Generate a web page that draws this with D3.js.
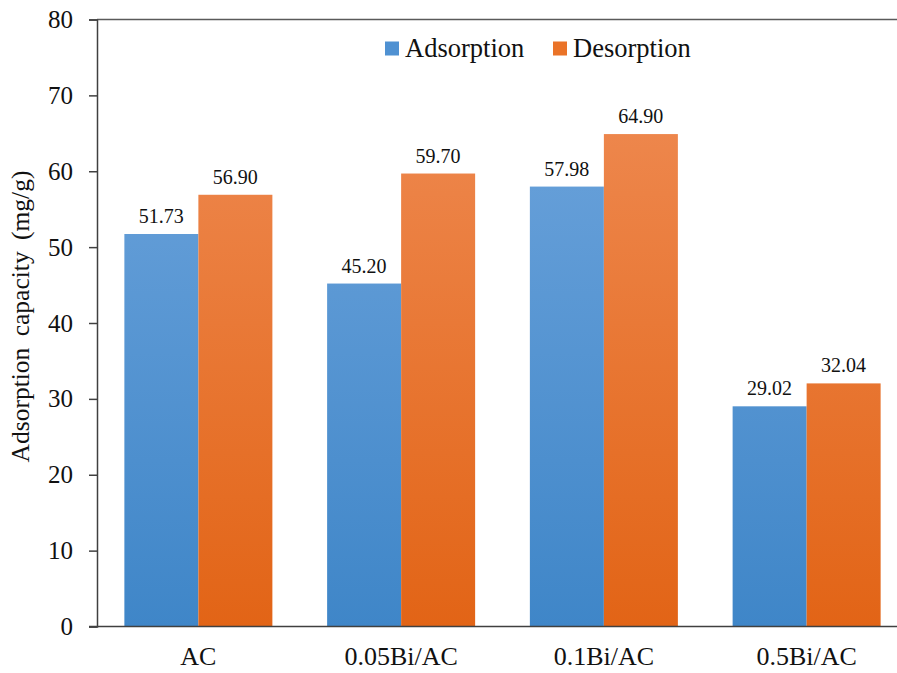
<!DOCTYPE html>
<html>
<head>
<meta charset="utf-8">
<script src="https://cdn.jsdelivr.net/npm/d3@7"></script>
<style>
  html, body { margin: 0; padding: 0; background: #fff; }
  svg { display: block; }
  svg text { font-family: "Liberation Serif", "Tinos", "Times New Roman", "DejaVu Serif", serif; }
</style>
</head>
<body>
<svg id="chart" width="897" height="673"></svg>
<script>
// Samples and measured capacities (mg/g)
const categories = ["AC", "0.05Bi/AC", "0.1Bi/AC", "0.5Bi/AC"];
const seriesNames = ["Adsorption", "Desorption"];
const adsorption = [51.73, 45.20, 57.98, 29.02];
const desorption = [56.90, 59.70, 64.90, 32.04];
const yTicks = [0, 10, 20, 30, 40, 50, 60, 70, 80];

const svg = d3.select("#chart");
const margin = { left: 97, right: -11, top: 19.5, bottom: 46.5 };
const W = 897, H = 673;

const x = d3.scaleBand()
  .domain(categories)
  .range([margin.left, W - margin.right])
  .paddingInner(0.27)
  .paddingOuter(0.135);

const xs = d3.scaleBand()
  .domain(seriesNames)
  .range([0, x.bandwidth()]);

const y = d3.scaleLinear()
  .domain([0, 80])
  .range([H - margin.bottom, margin.top]);

// vertical gradients for the two series
const defs = svg.append("defs");
const grads = [
  { id: "gAds", top: "#72a7de", bottom: "#3f86c8" },
  { id: "gDes", top: "#f08e58", bottom: "#e26416" }
];
grads.forEach(g => {
  const lg = defs.append("linearGradient")
    .attr("id", g.id)
    .attr("gradientUnits", "userSpaceOnUse")
    .attr("x1", 0).attr("x2", 0)
    .attr("y1", y(80)).attr("y2", y(0));
  lg.append("stop").attr("offset", "0%").attr("stop-color", g.top);
  lg.append("stop").attr("offset", "100%").attr("stop-color", g.bottom);
});

// top frame line
svg.append("line")
  .attr("x1", margin.left).attr("x2", W)
  .attr("y1", y(80)).attr("y2", y(80))
  .attr("stroke", "#5a5a5a").attr("stroke-width", 1.5);

const rows = categories.map((c, i) => ({
  cat: c,
  vals: [
    { s: "Adsorption", v: adsorption[i], fill: "url(#gAds)" },
    { s: "Desorption", v: desorption[i], fill: "url(#gDes)" }
  ]
}));

const groups = svg.append("g").selectAll("g")
  .data(rows).join("g")
  .attr("transform", d => `translate(${x(d.cat)},0)`);

groups.selectAll("rect")
  .data(d => d.vals).join("rect")
  .attr("x", d => xs(d.s))
  .attr("width", xs.bandwidth())
  .attr("y", d => y(d.v))
  .attr("height", d => y(0) - y(d.v))
  .attr("fill", d => d.fill);

groups.selectAll("text")
  .data(d => d.vals).join("text")
  .attr("x", d => xs(d.s) + xs.bandwidth() / 2)
  .attr("y", d => y(d.v) - 11)
  .attr("text-anchor", "middle")
  .attr("font-size", 20)
  .attr("fill", "#111")
  .text(d => d.v.toFixed(2));

// y axis
const yAxis = svg.append("g")
  .attr("transform", `translate(${margin.left},0)`)
  .call(d3.axisLeft(y).tickValues(yTicks).tickSize(8).tickPadding(16).tickFormat(d3.format("d")));
yAxis.attr("font-family", null);
yAxis.select(".domain").attr("stroke", "#404040").attr("stroke-width", 1.5);
yAxis.selectAll(".tick line").attr("stroke", "#404040").attr("stroke-width", 1.5);
yAxis.selectAll(".tick text").attr("font-size", 25).attr("fill", "#111");

// x axis baseline
const xAxis = svg.append("g")
  .attr("transform", `translate(0,${y(0)})`)
  .call(d3.axisBottom(x).tickSize(0).tickPadding(20));
xAxis.attr("font-family", null);
xAxis.select(".domain").attr("d", `M${margin.left - 8},0H${W}`)
  .attr("stroke", "#404040").attr("stroke-width", 1.5);
xAxis.selectAll(".tick text").attr("font-size", 26).attr("fill", "#111");

// y axis title
svg.append("text")
  .attr("transform", `translate(29,${316.5}) rotate(-90)`)
  .attr("text-anchor", "middle")
  .attr("font-size", 25.5)
  .attr("word-spacing", 5)
  .attr("fill", "#111")
  .text("Adsorption capacity (mg/g)");

// legend
const legend = [
  { name: "Adsorption", color: "#4f91d2", x: 385 },
  { name: "Desorption", color: "#ea7328", x: 553 }
];
const lg = svg.append("g").selectAll("g").data(legend).join("g")
  .attr("transform", d => `translate(${d.x},0)`);
lg.append("rect").attr("x", 0).attr("y", 41.5).attr("width", 14).attr("height", 14)
  .attr("fill", d => d.color);
lg.append("text").attr("x", 20).attr("y", 57)
  .attr("font-size", 26.5).attr("fill", "#111")
  .text(d => d.name);
</script>
</body>
</html>
